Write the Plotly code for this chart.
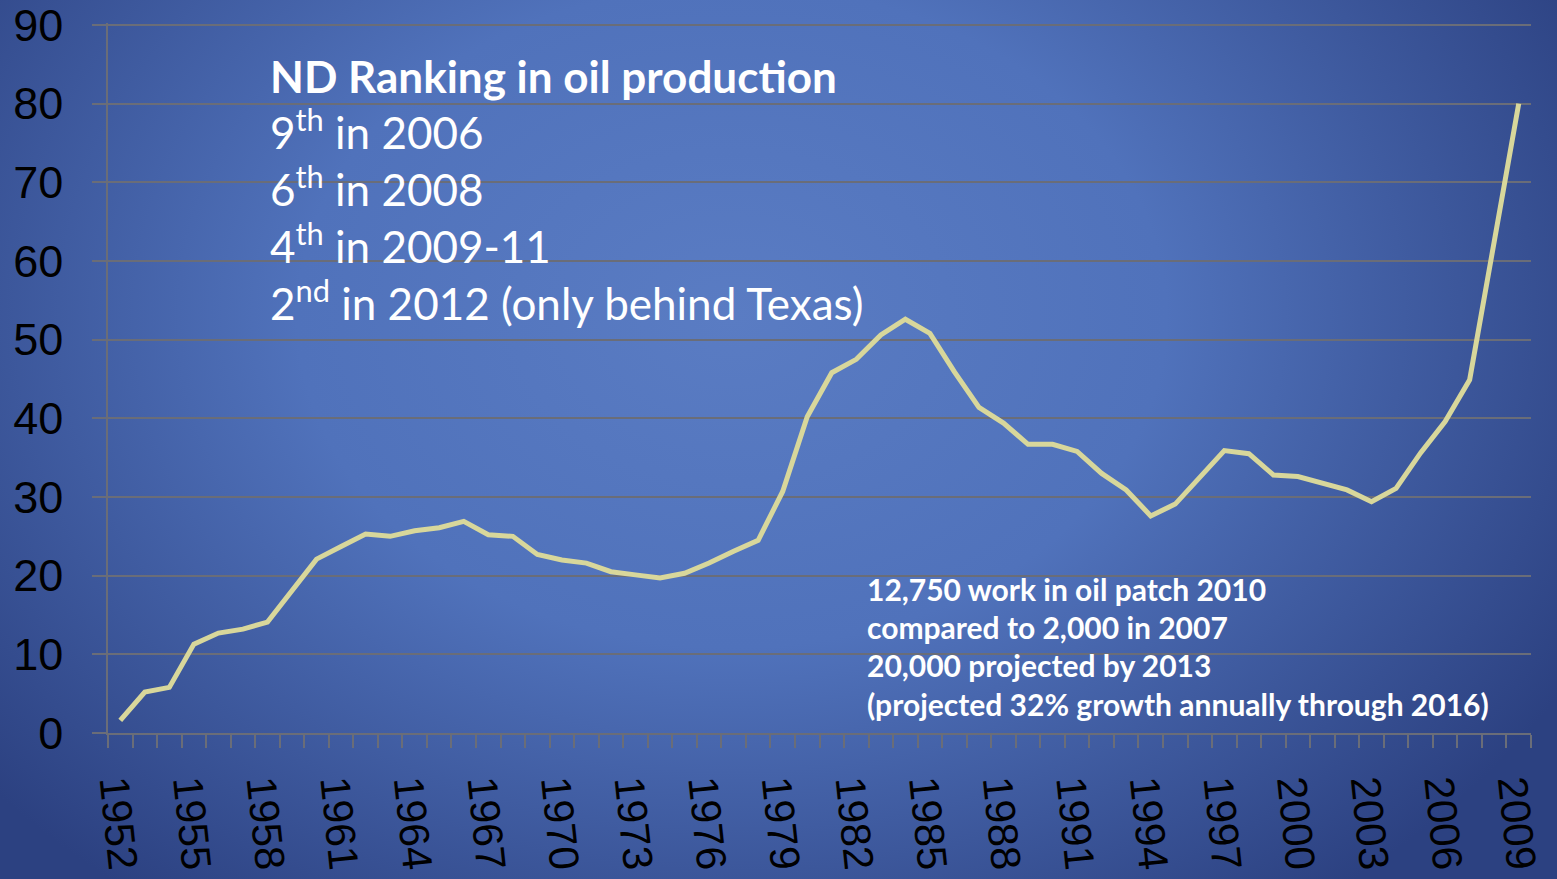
import base64
import plotly.graph_objects as go

# North Dakota crude oil production, 1952-2009
years = list(range(1952, 2010))
production = [
    1.6, 5.2, 5.8, 11.3, 12.7, 13.2, 14.1, 18.0, 22.1, 23.7,
    25.3, 25.0, 25.7, 26.1, 26.9, 25.2, 25.0, 22.7, 22.0, 21.6,
    20.5, 20.1, 19.7, 20.3, 21.6, 23.1, 24.5, 30.7, 40.2, 45.8,
    47.5, 50.6, 52.6, 50.8, 45.9, 41.4, 39.4, 36.7, 36.7, 35.8,
    33.0, 30.9, 27.6, 29.1, 32.4, 35.9, 35.5, 32.8, 32.6, 31.7,
    30.9, 29.4, 31.1, 35.6, 39.6, 44.9, 62.5, 80.0,
]
label_years = list(range(1952, 2010, 3))
y_ticks = list(range(0, 91, 10))

ranking_title = "ND Ranking in oil production"
ranking_lines = [
    "9<sup>th</sup> in 2006",
    "6<sup>th</sup> in 2008",
    "4<sup>th</sup> in 2009-11",
    "2<sup>nd</sup> in 2012 (only behind Texas)",
]
jobs_lines = [
    "12,750 work in oil patch 2010",
    "compared to 2,000 in 2007",
    "20,000 projected by 2013",
    "(projected 32% growth annually through 2016)",
]

W, H = 1557, 879
# a little headroom above 90 so the top gridline is kept
L, R, T, B = 108, 26, 23, 146
PW, PH = W - L - R, H - T - B
Y_TOP = 90 + 2 * 90 / 708


def px_x(x):
    return (x - L) / PW


def px_y(y):
    return 1 - (y - T) / PH


# Radial blue backdrop as an inline SVG
svg = f"""<svg xmlns='http://www.w3.org/2000/svg' width='{W}' height='{H}' viewBox='0 0 {W} {H}' preserveAspectRatio='none'>
<defs><radialGradient id='g' cx='0.47' cy='0.36' r='0.62' gradientTransform='translate(0.47 0.36) scale(1 1.35) translate(-0.47 -0.36)'>
<stop offset='0' stop-color='#5a7cc3'/>
<stop offset='0.45' stop-color='#5072bb'/>
<stop offset='1' stop-color='#2c4181'/>
</radialGradient></defs>
<rect width='{W}' height='{H}' fill='url(#g)'/></svg>"""
bg_src = "data:image/svg+xml;base64," + base64.b64encode(svg.encode()).decode()

grid_col = "#6a6d78"

fig = go.Figure()
fig.add_trace(go.Scatter(
    x=years, y=production, mode="lines",
    line=dict(color="#d8d79b", width=5),
    hoverinfo="x+y", showlegend=False,
))

annotations = []
annotations.append(dict(
    text="<b>" + ranking_title + "</b>", x=px_x(268), y=px_y(76),
    xref="paper", yref="paper", xanchor="left", yanchor="middle",
    showarrow=False, font=dict(family="Lato", size=44, color="white"),
))
for i, t in enumerate(ranking_lines):
    annotations.append(dict(
        text=t, x=px_x(268), y=px_y(129 + 57.3 * i),
        xref="paper", yref="paper", xanchor="left", yanchor="middle",
        showarrow=False, font=dict(family="Lato", size=44, color="white"),
    ))
for i, t in enumerate(jobs_lines):
    annotations.append(dict(
        text="<b>" + t + "</b>", x=px_x(865), y=px_y(589 + 38.2 * i),
        xref="paper", yref="paper", xanchor="left", yanchor="middle",
        showarrow=False, font=dict(family="Lato", size=30, color="white"),
    ))

fig.update_layout(
    width=W, height=H,
    margin=dict(l=L, r=R, t=T, b=B, pad=0),
    paper_bgcolor="#3a559a", plot_bgcolor="rgba(0,0,0,0)",
    images=[dict(
        source=bg_src, xref="paper", yref="paper",
        x=-L / PW, y=1 + T / PH, sizex=W / PW, sizey=H / PH,
        xanchor="left", yanchor="top", sizing="stretch", layer="below",
    )],
    annotations=annotations,
    xaxis=dict(
        range=[1951.5, 2009.5], tickmode="array",
        tickvals=label_years, ticktext=[str(y) for y in label_years],
        ticks="", tickangle=84, showgrid=False, zeroline=False,
        showline=True, linecolor=grid_col, linewidth=1.5,
        tickfont=dict(family="Liberation Sans", size=42, color="black"),
        ticklabelstandoff=12, automargin=False, ticklabeloverflow="allow",
        minor=dict(ticks="outside", ticklen=13, tickwidth=1.5, tickcolor=grid_col,
                   tick0=1951.5, dtick=1, showgrid=False),
    ),
    yaxis=dict(
        range=[0, Y_TOP], tickmode="array", tickvals=y_ticks,
        ticks="outside", ticklen=14, tickwidth=1.5, tickcolor=grid_col,
        showgrid=True, gridcolor=grid_col, gridwidth=1.5, zeroline=False,
        showline=True, linecolor=grid_col, linewidth=1.5,
        tickfont=dict(family="Liberation Sans", size=45, color="black"),
        ticklabelstandoff=20, automargin=False, ticklabeloverflow="allow",
    ),
)

fig.write_html("out.html")
